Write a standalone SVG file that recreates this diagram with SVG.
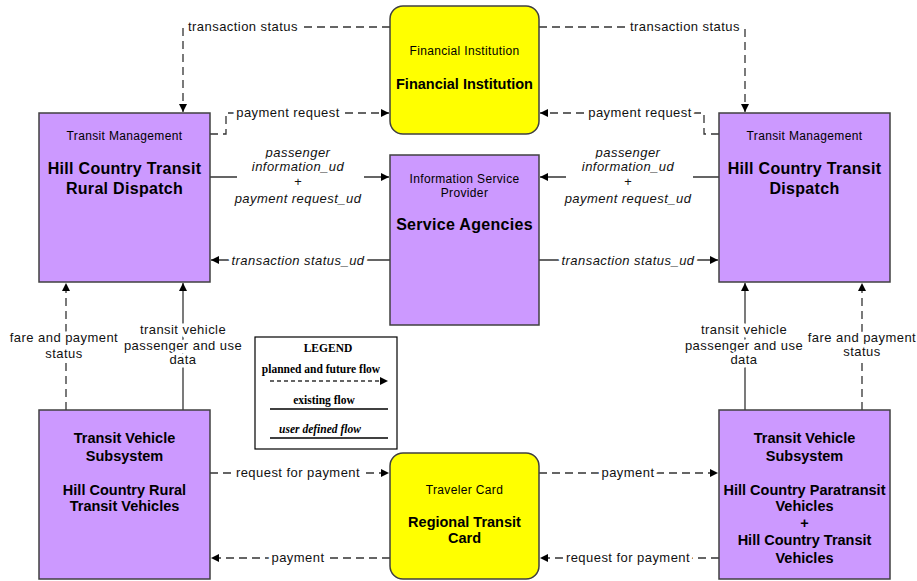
<svg xmlns="http://www.w3.org/2000/svg" width="917" height="581" viewBox="0 0 917 581">
<style>
.box{fill:#CC99FF;stroke:#404040;stroke-width:1.5}
.card{fill:#FFFF00;stroke:#404040;stroke-width:1.5}
.sub{font-family:"Liberation Sans",Arial,sans-serif;font-size:12px;letter-spacing:0.35px;fill:#000;text-anchor:middle}
.ttl{font-family:"Liberation Sans",Arial,sans-serif;font-size:14.5px;font-weight:bold;fill:#000;text-anchor:middle}
.big{font-size:16px;letter-spacing:0.3px}
.ln{fill:none;stroke:#333;stroke-width:1.3}
.dash{stroke-dasharray:8 5}
.lbl{font-family:"Liberation Sans",Arial,sans-serif;font-size:13px;letter-spacing:0.45px;fill:#111;text-anchor:middle;stroke:#fff;stroke-width:7;paint-order:stroke;stroke-linejoin:round}
.it{font-style:italic}
.lg{font-family:"Liberation Serif","Times New Roman",serif;font-size:11.5px;font-weight:bold;fill:#000;text-anchor:middle}
</style>
<defs>
<marker id="ah" viewBox="0 0 10 10" refX="10" refY="5" markerWidth="8" markerHeight="8" markerUnits="userSpaceOnUse" orient="auto">
<path d="M0,0 L10,5 L0,10 z" fill="#000"/>
</marker>
</defs>
<rect width="917" height="581" fill="#fff"/>

<g id="connectors">
<path class="ln dash" d="M390,27 H183 V112" marker-end="url(#ah)"/>
<text class="lbl" x="243" y="31">transaction status</text>
<path class="ln dash" d="M539,27 H745 V112" marker-end="url(#ah)"/>
<text class="lbl" x="685" y="31">transaction status</text>
<path class="ln dash" d="M210,134 H226 V113 H389" marker-end="url(#ah)"/>
<text class="lbl" x="288" y="117">payment request</text>
<path class="ln dash" d="M719,134 H704 V113 H540" marker-end="url(#ah)"/>
<text class="lbl" x="640" y="117">payment request</text>
<path class="ln" d="M210,177 H237 M364,177 H389" marker-end="url(#ah)"/>
<text class="lbl it" x="298" y="157">passenger</text>
<text class="lbl it" x="298" y="171">information_ud</text>
<text class="lbl it" x="298" y="186">+</text>
<text class="lbl it" x="298" y="203">payment request_ud</text>
<path class="ln" d="M719,177 H693 M566,177 H540" marker-end="url(#ah)"/>
<text class="lbl it" x="628" y="157">passenger</text>
<text class="lbl it" x="628" y="171">information_ud</text>
<text class="lbl it" x="628" y="186">+</text>
<text class="lbl it" x="628" y="203">payment request_ud</text>
<path class="ln" d="M390,260 H366 M230,260 H211" marker-end="url(#ah)"/>
<text class="lbl it" x="298" y="265">transaction status_ud</text>
<path class="ln" d="M539,260 H561 M696,260 H718" marker-end="url(#ah)"/>
<text class="lbl it" x="628" y="265">transaction status_ud</text>
<path class="ln dash" d="M66,410 V283" marker-end="url(#ah)"/>
<text class="lbl" x="64" y="342">fare and payment</text>
<text class="lbl" x="64" y="358">status</text>
<path class="ln" d="M183,410 V283" marker-end="url(#ah)"/>
<text class="lbl" x="183" y="334">transit vehicle</text>
<text class="lbl" x="183" y="350">passenger and use</text>
<text class="lbl" x="183" y="364">data</text>
<path class="ln" d="M745,410 V283" marker-end="url(#ah)"/>
<text class="lbl" x="744" y="334">transit vehicle</text>
<text class="lbl" x="744" y="350">passenger and use</text>
<text class="lbl" x="744" y="364">data</text>
<path class="ln dash" d="M862,410 V283" marker-end="url(#ah)"/>
<text class="lbl" x="862" y="342">fare and payment</text>
<text class="lbl" x="862" y="356">status</text>
<path class="ln dash" d="M210,473 H389" marker-end="url(#ah)"/>
<text class="lbl" x="298" y="477">request for payment</text>
<path class="ln dash" d="M390,558 H211" marker-end="url(#ah)"/>
<text class="lbl" x="298" y="562">payment</text>
<path class="ln dash" d="M539,473 H718" marker-end="url(#ah)"/>
<text class="lbl" x="628" y="477">payment</text>
<path class="ln dash" d="M719,558 H540" marker-end="url(#ah)"/>
<text class="lbl" x="628" y="562">request for payment</text>
</g>

<g id="financial-institution">
<rect class="card" x="390" y="6" width="149" height="128" rx="13"/>
<text class="sub" x="464.5" y="55">Financial Institution</text>
<text class="ttl" x="464.5" y="89">Financial Institution</text>
</g>

<g id="tm-rural-dispatch">
<rect class="box" x="39" y="113" width="171" height="169"/>
<text class="sub" x="124.5" y="140">Transit Management</text>
<text class="ttl big" x="124.5" y="174">Hill Country Transit</text>
<text class="ttl big" x="124.5" y="194">Rural Dispatch</text>
</g>

<g id="tm-dispatch">
<rect class="box" x="719" y="113" width="171" height="169"/>
<text class="sub" x="804.5" y="140">Transit Management</text>
<text class="ttl big" x="804.5" y="174">Hill Country Transit</text>
<text class="ttl big" x="804.5" y="194">Dispatch</text>
</g>

<g id="service-agencies">
<rect class="box" x="390" y="155" width="149" height="170"/>
<text class="sub" x="464.5" y="183">Information Service</text>
<text class="sub" x="464.5" y="197">Provider</text>
<text class="ttl big" x="464.5" y="230">Service Agencies</text>
</g>

<g id="tv-rural">
<rect class="box" x="39" y="410" width="171" height="169"/>
<text class="ttl" x="124.5" y="443">Transit Vehicle</text>
<text class="ttl" x="124.5" y="461">Subsystem</text>
<text class="ttl" x="124.5" y="495">Hill Country Rural</text>
<text class="ttl" x="124.5" y="511">Transit Vehicles</text>
</g>

<g id="tv-paratransit">
<rect class="box" x="719" y="410" width="171" height="169"/>
<text class="ttl" x="804.5" y="443">Transit Vehicle</text>
<text class="ttl" x="804.5" y="461">Subsystem</text>
<text class="ttl" x="804.5" y="495">Hill Country Paratransit</text>
<text class="ttl" x="804.5" y="511">Vehicles</text>
<text class="ttl" x="804.5" y="528">+</text>
<text class="ttl" x="804.5" y="545">Hill Country Transit</text>
<text class="ttl" x="804.5" y="563">Vehicles</text>
</g>

<g id="regional-transit-card">
<rect class="card" x="390" y="453" width="149" height="126" rx="13"/>
<text class="sub" x="464.5" y="494">Traveler Card</text>
<text class="ttl" x="464.5" y="527">Regional Transit</text>
<text class="ttl" x="464.5" y="543">Card</text>
</g>

<g id="legend">
<rect x="255" y="337" width="142" height="112" fill="#fff" stroke="#000" stroke-width="1.2"/>
<text class="lg" x="328" y="352">LEGEND</text>
<text class="lg" x="321" y="373">planned and future flow</text>
<path class="ln" d="M270,381 H381" stroke="#000" stroke-dasharray="4 3"/>
<path d="M380,377 L388,381 L380,385 z" fill="#000"/>
<text class="lg" x="324" y="404">existing flow</text>
<path d="M270,409 H388" stroke="#000" stroke-width="1.3"/>
<text class="lg it" x="320" y="433">user defined flow</text>
<path d="M270,438 H388" stroke="#000" stroke-width="1.3"/>
</g>
</svg>
